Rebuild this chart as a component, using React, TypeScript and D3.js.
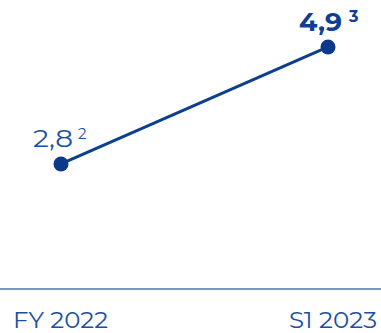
import React from "react";
import * as d3 from "d3";

const categories = ["FY 2022", "S1 2023"];
const values = [2.8, 4.9];
const valueLabels = ["2,8", "4,9"];
const footnotes = ["2", "3"];
const boldFlags = [false, true];

const W = 381;
const H = 333;
const FONT = "Montserrat, 'Open Sans', 'Noto Sans', sans-serif";

export default function App() {
  const x = d3.scalePoint<string>().domain(categories).range([61, 328]);
  const y = d3.scaleLinear().domain([0, 5]).range([320, 41.4]);
  const line = d3
    .line<number>()
    .x((_, i) => x(categories[i]) as number)
    .y((d) => y(d));

  return (
    <svg
      width={W}
      height={H}
      style={{ position: "absolute", left: 0, top: 0, display: "block" }}
    >
      <rect width={W} height={H} fill="#ffffff" />
      <line x1={0} x2={W} y1={289} y2={289} stroke="#4f73b8" strokeWidth={1.5} />
      <path d={line(values) || ""} fill="none" stroke="#0d3f8f" strokeWidth={3} />
      {values.map((v, i) => (
        <circle key={i} cx={x(categories[i])} cy={y(v)} r={7.5} fill="#0b3a8a" />
      ))}
      {values.map((v, i) => {
        const cx = x(categories[i]) as number;
        const cy = y(v);
        const bold = boldFlags[i];
        return (
          <text
            key={"l" + i}
            x={cx + (bold ? 14 : 12)}
            y={cy - (bold ? 16 : 17)}
            textAnchor="end"
            fill={bold ? "#0e3f94" : "#1a4fa3"}
            fontFamily={FONT}
            fontSize={bold ? 25 : 24}
            fontWeight={bold ? 700 : 400}
            textLength={bold ? 43 : 40}
            lengthAdjust="spacingAndGlyphs"
          >
            {valueLabels[i]}
          </text>
        );
      })}
      {values.map((v, i) => {
        const cx = x(categories[i]) as number;
        const cy = y(v);
        const bold = boldFlags[i];
        return (
          <text
            key={"f" + i}
            x={cx + (bold ? 21 : 17)}
            y={cy - 25}
            textAnchor="start"
            fill={bold ? "#0e3f94" : "#1a4fa3"}
            fontFamily={FONT}
            fontSize={bold ? 16 : 15}
            fontWeight={bold ? 700 : 400}
          >
            {footnotes[i]}
          </text>
        );
      })}
      {categories.map((c, i) => (
        <text
          key={"c" + i}
          x={i === 0 ? 13 : 377}
          y={328}
          textAnchor={i === 0 ? "start" : "end"}
          fill="#1a4fa3"
          fontFamily={FONT}
          fontSize={23}
          textLength={i === 0 ? 95 : 88}
          lengthAdjust="spacingAndGlyphs"
        >
          {c}
        </text>
      ))}
    </svg>
  );
}
